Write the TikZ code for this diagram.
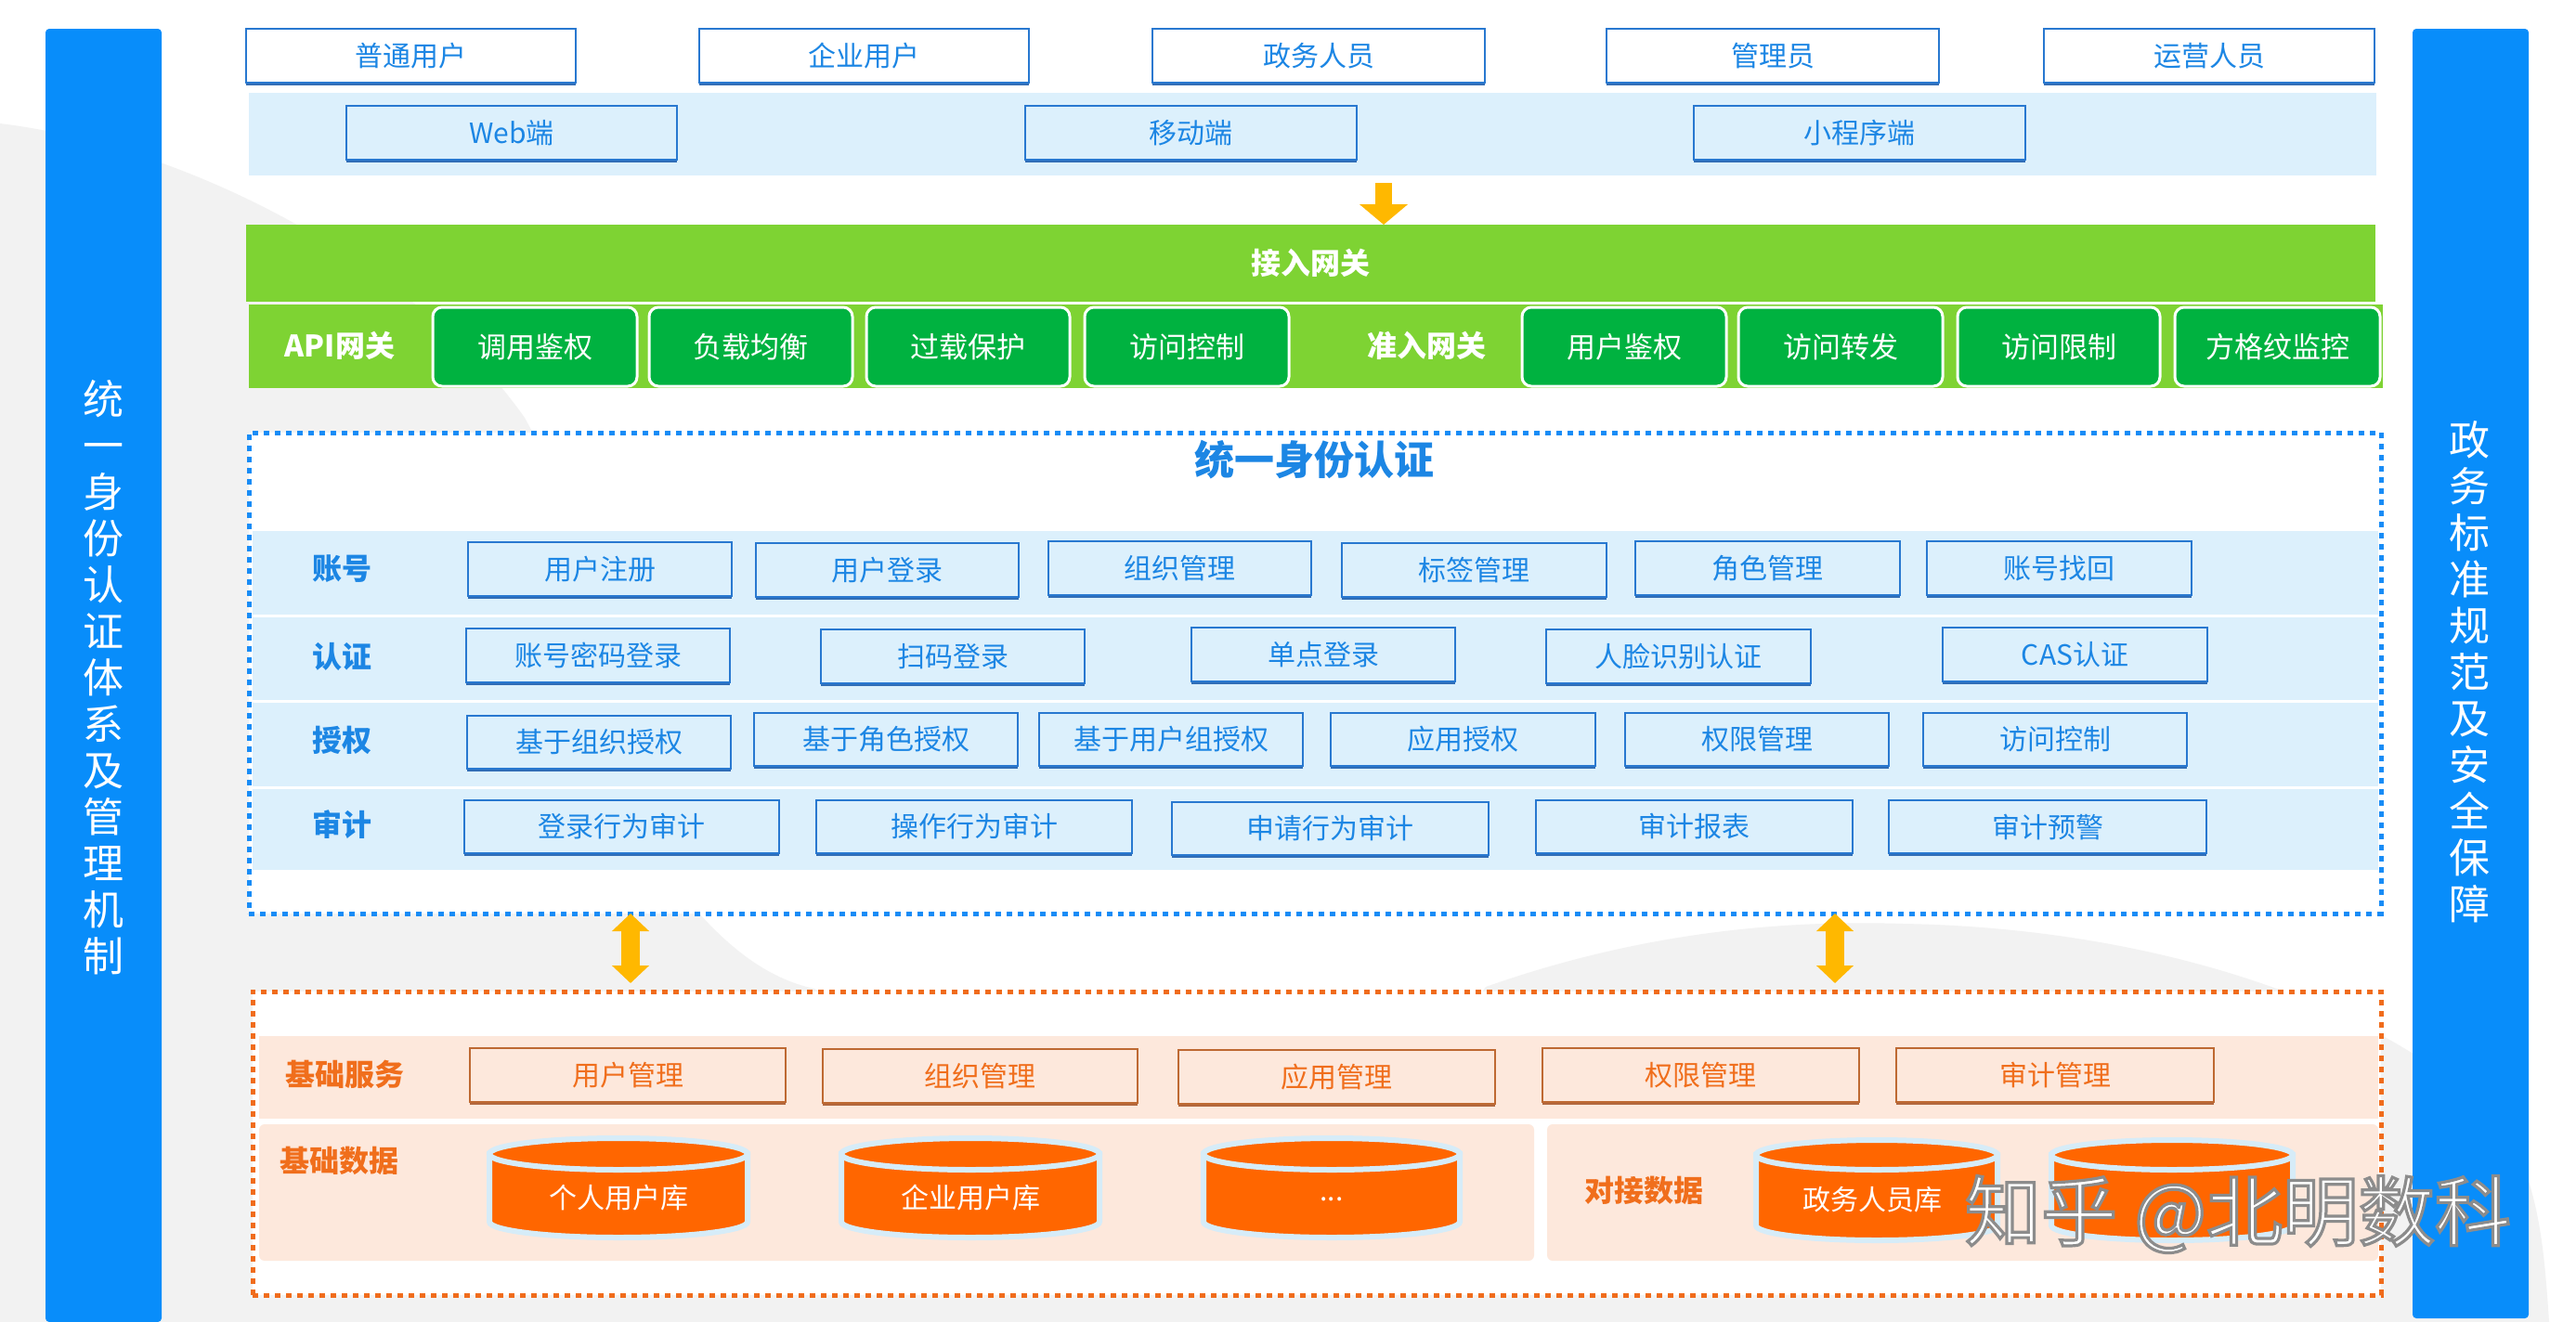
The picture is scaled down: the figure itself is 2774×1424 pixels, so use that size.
\documentclass[tikz,border=0pt]{standalone}
\usepackage{fontspec}
\setmainfont{Noto Sans CJK SC}
\usetikzlibrary{arrows.meta,shadows}
\definecolor{bggray}{RGB}{242,242,242}
\definecolor{barblue}{RGB}{8,141,250}
\definecolor{lblue}{RGB}{220,240,252}
\definecolor{boxblue}{RGB}{40,120,208}
\definecolor{boxshadow}{RGB}{30,95,175}
\definecolor{tblue}{RGB}{28,134,228}
\definecolor{dashblue}{RGB}{24,140,246}
\definecolor{lgreen}{RGB}{126,211,51}
\definecolor{dgreen}{RGB}{0,178,64}
\definecolor{ayellow}{RGB}{255,184,0}
\definecolor{dashorange}{RGB}{240,108,28}
\definecolor{peach}{RGB}{253,232,220}
\definecolor{oborder}{RGB}{190,105,50}
\definecolor{oshadow}{RGB}{170,90,45}
\definecolor{otext}{RGB}{240,110,28}
\definecolor{cylorange}{RGB}{255,102,0}
\definecolor{cylline}{RGB}{214,236,248}
\newcommand\fsz[1]{\fontsize{#1}{#1}\selectfont}
\newcommand\mkbox[7]{\node[#2, minimum width={(#5-#3)*0.5pt}, minimum height={(#6-#4)*0.5pt}] (#1) at ({(#3+#5)/2},{(#4+#6)/2}) {#7};}
\newcommand\mkcyl[7]{%
  \draw[line width=3pt, draw=cylline, fill=cylorange] (#2-#5,#3) -- (#2-#5,#4) arc[start angle=180, end angle=360, x radius=#5*0.5pt, y radius=#6*0.5pt] -- (#2+#5,#3) -- cycle;
  \draw[line width=3pt, draw=cylline, fill=cylorange] (#2,#3) ellipse[x radius=#5*0.5pt, y radius=#6*0.5pt];
  \node[cyltext] (#1) at (#2,#7) {};}
\newcommand\outlinedtext[1]{\special{pdf:literal direct 2 Tr 0.55 0.55 0.55 RG 1.6 w}#1\special{pdf:literal direct 0 Tr}}
\begin{document}
\begin{tikzpicture}[x=0.5pt,y=-0.5pt,
  plain/.style={inner sep=0pt, outer sep=0pt},
  band/.style={plain, draw=none},
  bar/.style={plain, fill=barblue, rounded corners=2pt},
  vtext/.style={plain, text=white, align=center, font=\fontsize{22pt}{25pt}\selectfont},
  ubox/.style={plain, draw=boxblue, line width=1.4pt, fill=white, text=tblue, font=\fsz{15pt},
    drop shadow={shadow xshift=0pt, shadow yshift=-1.5pt, fill=boxshadow, opacity=0.9}},
  cbox/.style={ubox, fill=lblue},
  gbox/.style={plain, draw=white, line width=1.5pt, fill=dgreen, rounded corners=5pt, text=white, font=\fsz{15.5pt}},
  glab/.style={plain, text=white, font=\bfseries\fsz{16pt}},
  rbox/.style={ubox, fill=lblue},
  rlab/.style={plain, text=tblue, font=\bfseries\fsz{16pt}},
  obox/.style={plain, draw=oborder, line width=1.2pt, fill=peach, text=otext, font=\fsz{15pt},
    drop shadow={shadow xshift=0pt, shadow yshift=-1.4pt, fill=oshadow, opacity=0.9}},
  olab/.style={plain, text=otext, font=\bfseries\fsz{16pt}},
  cyltext/.style={plain, text=white, font=\fsz{15pt}},
  downarrow/.style={draw=ayellow, line width=9pt, -{Triangle[width=25.5pt,length=11pt]}},
  dblarrow/.style={draw=ayellow, line width=10pt, {Triangle[width=19.5pt,length=9.5pt]}-{Triangle[width=19.5pt,length=9.5pt]}}
]
\useasboundingbox (0,0) rectangle (2774,1424);
\fill[white] (0,0) rectangle (2774,1424);
% background
\fill[bggray] (0,133) .. controls (220,160) and (460,300) .. (565,450)
  .. controls (670,640) and (700,930) .. (753,984)
  .. controls (790,1025) and (830,1055) .. (877,1065)
  -- (1100,1200) -- (1500,1200) -- (1600,1063)
  .. controls (1750,1010) and (1900,990) .. (2049,995)
  .. controls (2350,1000) and (2600,1100) .. (2700,1220)
  .. controls (2735,1280) and (2740,1350) .. (2745,1424)
  -- (0,1424) -- cycle;
% side bars
\mkbox{lbar}{bar}{49}{31}{174}{1424}{}
\mkbox{rbar}{bar}{2598}{31}{2723}{1420}{}
\node[vtext] (ltext) at (111,730) {统\\一\\身\\份\\认\\证\\体\\系\\及\\管\\理\\机\\制};
\node[vtext] (rtext) at (2659,724) {政\\务\\标\\准\\规\\范\\及\\安\\全\\保\\障};
% users
\mkbox{u1}{ubox}{265}{31}{620}{89}{普通用户}
\mkbox{u2}{ubox}{753}{31}{1108}{89}{企业用户}
\mkbox{u3}{ubox}{1241}{31}{1599}{89}{政务人员}
\mkbox{u4}{ubox}{1730}{31}{2088}{89}{管理员}
\mkbox{u5}{ubox}{2201}{31}{2557}{89}{运营人员}
% clients
\mkbox{clientband}{band, fill=lblue}{268}{100}{2559}{189}{}
\mkbox{c1}{cbox}{373}{114}{729}{172}{Web端}
\mkbox{c2}{cbox}{1104}{114}{1461}{172}{移动端}
\mkbox{c3}{cbox}{1824}{114}{2181}{172}{小程序端}
% gateway
\mkbox{accessband}{band, fill=lgreen, text=white, font=\bfseries\fsz{16pt}}{265}{242}{2558}{325}{接入网关}
\mkbox{gwrow}{band, fill=lgreen}{268}{328}{2566}{418}{}
\node[glab] (apigw) at (366,372) {API网关};
\node[glab] (zrgw) at (1536,372) {准入网关};
\mkbox{g1}{gbox}{466}{331}{686}{416}{调用鉴权}
\mkbox{g2}{gbox}{699}{331}{918}{416}{负载均衡}
\mkbox{g3}{gbox}{933}{331}{1152}{416}{过载保护}
\mkbox{g4}{gbox}{1168}{331}{1388}{416}{访问控制}
\mkbox{g5}{gbox}{1639}{331}{1859}{416}{用户鉴权}
\mkbox{g6}{gbox}{1872}{331}{2092}{416}{访问转发}
\mkbox{g7}{gbox}{2108}{331}{2326}{416}{访问限制}
\mkbox{g8}{gbox}{2342}{331}{2563}{416}{方格纹监控}
\draw[downarrow] ([yshift=-4pt]clientband.south -| 1490,0) -- (accessband.north -| 1490,0);
% unified identity authentication
\mkbox{authbox}{plain, fill=white, draw=dashblue, line width=2.5pt, dash pattern=on 3pt off 3pt}{268}{466}{2564}{984}{}
\node[plain, text=tblue, font=\bfseries\fsz{21.5pt}] (authtitle) at (1415,495) {统一身份认证};
\mkbox{row1}{band, fill=lblue}{272}{572}{2561}{662}{}
\mkbox{row2}{band, fill=lblue}{272}{665}{2561}{754}{}
\mkbox{row3}{band, fill=lblue}{272}{757}{2561}{847}{}
\mkbox{row4}{band, fill=lblue}{272}{850}{2561}{937}{}
\node[rlab] (l1) at (368,613) {账号};
\node[rlab] (l2) at (368,707) {认证};
\node[rlab] (l3) at (368,797) {授权};
\node[rlab] (l4) at (368,888) {审计};
\mkbox{a1}{rbox}{504}{584}{788}{642}{用户注册}
\mkbox{a2}{rbox}{814}{585}{1097}{643}{用户登录}
\mkbox{a3}{rbox}{1129}{583}{1412}{641}{组织管理}
\mkbox{a4}{rbox}{1445}{585}{1730}{643}{标签管理}
\mkbox{a5}{rbox}{1761}{583}{2046}{641}{角色管理}
\mkbox{a6}{rbox}{2075}{583}{2360}{641}{账号找回}
\mkbox{b1}{rbox}{502}{677}{786}{735}{账号密码登录}
\mkbox{b2}{rbox}{884}{678}{1168}{736}{扫码登录}
\mkbox{b3}{rbox}{1283}{676}{1567}{734}{单点登录}
\mkbox{b4}{rbox}{1665}{678}{1950}{736}{人脸识别认证}
\mkbox{b5}{rbox}{2092}{676}{2377}{734}{CAS认证}
\mkbox{e1}{rbox}{503}{771}{787}{828}{基于组织授权}
\mkbox{e2}{rbox}{812}{768}{1096}{825}{基于角色授权}
\mkbox{e3}{rbox}{1119}{768}{1403}{825}{基于用户组授权}
\mkbox{e4}{rbox}{1433}{768}{1718}{825}{应用授权}
\mkbox{e5}{rbox}{1750}{768}{2034}{825}{权限管理}
\mkbox{e6}{rbox}{2071}{768}{2355}{825}{访问控制}
\mkbox{d1}{rbox}{500}{862}{839}{919}{登录行为审计}
\mkbox{d2}{rbox}{879}{862}{1219}{919}{操作行为审计}
\mkbox{d3}{rbox}{1262}{864}{1603}{921}{申请行为审计}
\mkbox{d4}{rbox}{1654}{862}{1995}{919}{审计报表}
\mkbox{d5}{rbox}{2034}{862}{2376}{919}{审计预警}
% base layer
\mkbox{basebox}{plain, fill=white, draw=dashorange, line width=2.5pt, dash pattern=on 3pt off 3pt}{272}{1068}{2564}{1395}{}
\draw[dblarrow] (authbox.south -| 679,0) -- ([yshift=4.5pt]basebox.north -| 679,0);
\draw[dblarrow] (authbox.south -| 1976,0) -- ([yshift=4.5pt]basebox.north -| 1976,0);
\mkbox{svcband}{band, fill=peach}{279}{1116}{2561}{1205}{}
\mkbox{databand}{band, fill=peach, rounded corners=3pt}{279}{1211}{1652}{1358}{}
\mkbox{extband}{band, fill=peach, rounded corners=3pt}{1666}{1211}{2561}{1358}{}
\node[olab] (sl) at (371,1157) {基础服务};
\node[olab] (dl) at (365,1250) {基础数据};
\node[olab] (xl) at (1770,1282) {对接数据};
\mkbox{s1}{obox}{506}{1129}{846}{1187}{用户管理}
\mkbox{s2}{obox}{886}{1130}{1225}{1188}{组织管理}
\mkbox{s3}{obox}{1269}{1131}{1610}{1189}{应用管理}
\mkbox{s4}{obox}{1661}{1129}{2002}{1187}{权限管理}
\mkbox{s5}{obox}{2042}{1129}{2384}{1187}{审计管理}
\mkcyl{db1}{666}{1243}{1316}{139}{17}{1290}
\mkcyl{db2}{1045}{1243}{1316}{139}{17}{1290}
\mkcyl{db3}{1434}{1243}{1316}{138}{17}{1290}
\mkcyl{db4}{2021}{1244}{1320}{130}{16}{1292}
\mkcyl{db5}{2339}{1244}{1320}{130}{16}{1292}
\node[cyltext] (t1) at (666,1290) {个人用户库};
\node[cyltext] (t2) at (1045,1290) {企业用户库};
\node[cyltext] (t3) at (1434,1292) {...};
\node[cyltext] (t4) at (2016,1292) {政务人员库};
% watermark: white text with grey outline
\node[plain, text=white, font=\fsz{41pt}] (wm) at (2410,1308) {\outlinedtext{知乎 @北明数科}};
\end{tikzpicture}
\end{document}
